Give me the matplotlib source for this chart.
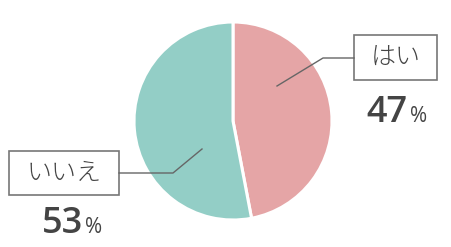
import matplotlib.pyplot as plt
from matplotlib.patches import Rectangle

labels = ["はい", "いいえ"]
values = [47, 53]
colors = ["#e5a5a6", "#93cec6"]

plt.rcParams['font.family'] = ['Noto Sans CJK JP', 'DejaVu Sans']

W, H = 452, 247
fig = plt.figure(figsize=(W / 100, H / 100), dpi=100)
ax = fig.add_axes([0, 0, 1, 1])

cx, cy, r = 233, H - 121, 99
ax.pie(values, colors=colors, startangle=90, counterclock=False,
       center=(cx, cy), radius=r, frame=True,
       wedgeprops=dict(edgecolor='white', linewidth=2.2))
ax.set_xlim(0, W)
ax.set_ylim(0, H)
ax.set_aspect('equal')
ax.axis('off')

line_c = "#666666"
txt_c = "#444444"

# leader lines (pixel coords, y flipped)
ax.plot([277, 323, 354], [H - 86, H - 58, H - 58], color=line_c, lw=1)
ax.plot([202, 173, 119], [H - 149, H - 173, H - 173], color=line_c, lw=1)

# label boxes: (x0, y0_top, x1, y1_bottom)
boxes = [(354, 35, 437, 80), (9, 151, 119, 195)]
pct_pos = [(408, 122), (83, 233)]
for lab, val, (x0, y0, x1, y1), (px, py) in zip(labels, values, boxes, pct_pos):
    ax.add_patch(Rectangle((x0, H - y1), x1 - x0, y1 - y0, fill=False,
                           edgecolor="#777777", lw=1.2))
    ax.text((x0 + x1) / 2, H - (y0 + y1) / 2, lab, ha='center', va='center',
            fontsize=18, fontweight='light', color=txt_c)
    ax.text(px, H - py, str(val), ha='right', va='baseline',
            family=['Open Sans', 'DejaVu Sans'], fontsize=26, fontweight='semibold',
            color=txt_c)
    ax.text(px + 2, H - py, "%", ha='left', va='baseline',
            family=['Open Sans', 'DejaVu Sans'], fontsize=15, color=txt_c)

fig.savefig("out.png", dpi=100)
